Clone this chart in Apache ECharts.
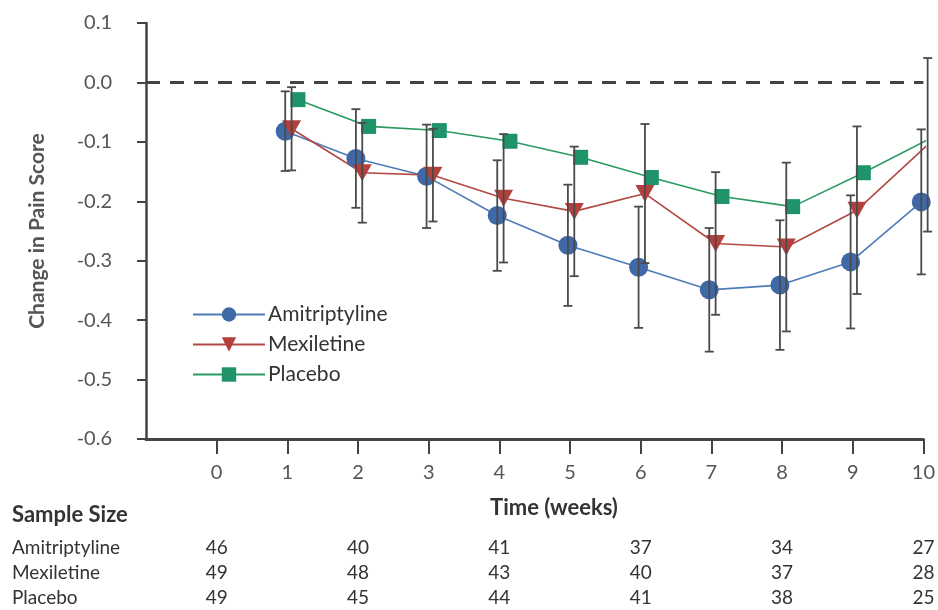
<!DOCTYPE html>
<html>
<head>
<meta charset="utf-8">
<script src="https://cdn.jsdelivr.net/npm/echarts@6/dist/echarts.min.js"></script>
<style>
  html, body { margin: 0; padding: 0; background: #fff; }
  #main { width: 938px; height: 610px; }
</style>
</head>
<body>
<div id="main"></div>
<script>
// weeks and mean change in pain score per group
var weeks = [1, 2, 3, 4, 5, 6, 7, 8, 9, 10];
var amitriptyline = [-0.082, -0.128, -0.158, -0.224, -0.274, -0.311, -0.349, -0.341, -0.302, -0.201];
var mexiletine = [-0.078, -0.152, -0.156, -0.195, -0.217, -0.187, -0.271, -0.277, -0.215, -0.105];
var placebo = [-0.029, -0.074, -0.081, -0.099, -0.126, -0.160, -0.192, -0.209, -0.152, -0.091];
// error bar half widths
var amiErr = [0.067, 0.083, 0.087, 0.093, 0.102, 0.102, 0.104, 0.109, 0.112, 0.122];
var mexErr = [0.070, 0.084, 0.078, 0.108, 0.109, 0.117, 0.120, 0.142, 0.141, 0.146];
// sample size table
var sampleWeeks = [0, 2, 4, 6, 8, 10];
var amiN = [46, 40, 41, 37, 34, 27];
var mexN = [49, 48, 43, 40, 37, 28];
var plaN = [49, 45, 44, 41, 38, 25];
var xTicks = [0, 1, 2, 3, 4, 5, 6, 7, 8, 9, 10];
var yTicks = [0.1, 0.0, -0.1, -0.2, -0.3, -0.4, -0.5, -0.6];

var FONT = 'Lato';

function points(vals, shift) {
    return weeks.map(function (w, i) { return [w + shift, vals[i]]; });
}
function bars(vals, errs, shift) {
    return weeks.map(function (w, i) { return [w + shift, vals[i] - errs[i], vals[i] + errs[i]]; });
}

function errorItem(params, api) {
    var x = api.value(0);
    var a = api.coord([x, api.value(2)]);
    var b = api.coord([x, api.value(1)]);
    var c = 4.5;
    var st = { stroke: '#4a4a4a', lineWidth: 1.8 };
    return {
        type: 'group',
        children: [
            { type: 'line', shape: { x1: a[0], y1: a[1], x2: b[0], y2: b[1] }, style: st },
            { type: 'line', shape: { x1: a[0] - c, y1: a[1], x2: a[0] + c, y2: a[1] }, style: st },
            { type: 'line', shape: { x1: b[0] - c, y1: b[1], x2: b[0] + c, y2: b[1] }, style: st }
        ]
    };
}

var myChart = echarts.init(document.getElementById('main'));
var option = {
    animation: false,
    backgroundColor: '#fff',
    grid: { left: 146, right: 13, top: 23, bottom: 171 },
    legend: {
        orient: 'vertical',
        left: 187,
        top: 299,
        itemWidth: 72,
        itemHeight: 18,
        itemGap: 9,
        textStyle: { fontFamily: FONT, fontSize: 21, color: '#333', padding: [0, 0, 0, -2] },
        data: ['Amitriptyline', 'Mexiletine', 'Placebo']
    },
    xAxis: {
        type: 'value',
        min: -1,
        max: 10,
        interval: 1,
        splitLine: { show: false },
        axisLine: { show: true, onZero: false, lineStyle: { color: '#444', width: 3 } },
        axisTick: { show: true, length: 15, customValues: xTicks, lineStyle: { color: '#444', width: 2 } },
        axisLabel: { customValues: xTicks, margin: 24, fontFamily: FONT, fontSize: 20, color: '#555' }
    },
    yAxis: {
        type: 'value',
        min: -0.6,
        max: 0.1,
        interval: 0.1,
        name: 'Change in Pain Score',
        nameLocation: 'middle',
        nameGap: 98,
        nameTextStyle: { fontFamily: FONT, fontSize: 21, fontWeight: 'bold', color: '#555' },
        splitLine: { show: false },
        axisLine: { show: true, onZero: false, lineStyle: { color: '#444', width: 2.5 } },
        axisTick: { show: true, length: 9, customValues: yTicks, lineStyle: { color: '#444', width: 2 } },
        axisLabel: {
            customValues: yTicks,
            margin: 34,
            fontFamily: FONT, fontSize: 20, color: '#555',
            formatter: function (v) { return v.toFixed(1); }
        }
    },
    series: [
        {
            name: 'Amitriptyline',
            type: 'line',
            data: points(amitriptyline, -0.03),
            symbol: 'circle',
            symbolSize: 19,
            itemStyle: { color: '#3f69a6' },
            lineStyle: { color: '#4d7bb8', width: 1.6 },
            z: 3,
            markLine: {
                silent: true,
                symbol: 'none',
                label: { show: false },
                lineStyle: { color: '#444', width: 3, type: [14, 10] },
                data: [{ yAxis: 0 }]
            }
        },
        {
            name: 'Mexiletine',
            type: 'line',
            data: points(mexiletine, 0.06),
            symbol: 'triangle',
            symbolRotate: 180,
            symbolSize: [19, 17],
            itemStyle: { color: '#b3403c' },
            lineStyle: { color: '#b24a44', width: 1.6 },
            z: 3
        },
        {
            name: 'Placebo',
            type: 'line',
            data: points(placebo, 0.15),
            symbol: 'rect',
            symbolSize: 15,
            itemStyle: { color: '#1f946a' },
            lineStyle: { color: '#2a9a60', width: 1.6 },
            z: 3
        },
        {
            type: 'custom',
            renderItem: errorItem,
            data: bars(amitriptyline, amiErr, -0.03),
            z: 5,
            silent: true
        },
        {
            type: 'custom',
            renderItem: errorItem,
            data: bars(mexiletine, mexErr, 0.06),
            z: 5,
            silent: true
        }
    ]
};
myChart.setOption(option);

// texts below the axis: axis title and the sample size table
var txt = [];
var tx = function (x, y, s, opt) {
    opt = opt || {};
    txt.push({
        type: 'text', x: x, y: y, silent: true,
        style: {
            text: s, fontFamily: FONT, fontSize: opt.size || 19,
            fontWeight: opt.bold ? 'bold' : 'normal',
            fill: opt.color || '#333',
            align: opt.align || 'left', verticalAlign: 'middle'
        }
    });
};
tx(554, 508, 'Time (weeks)', { bold: true, size: 22, color: '#333', align: 'center' });
tx(12, 515, 'Sample Size', { bold: true, size: 22, color: '#333' });
var rows = [['Amitriptyline', amiN, 548], ['Mexiletine', mexN, 573], ['Placebo', plaN, 598]];
rows.forEach(function (r) {
    tx(12, r[2], r[0]);
    sampleWeeks.forEach(function (w, i) {
        var px = myChart.convertToPixel({ xAxisIndex: 0 }, w);
        tx(px, r[2], String(r[1][i]), { align: 'center' });
    });
});
myChart.setOption({ graphic: txt });
</script>
</body>
</html>
